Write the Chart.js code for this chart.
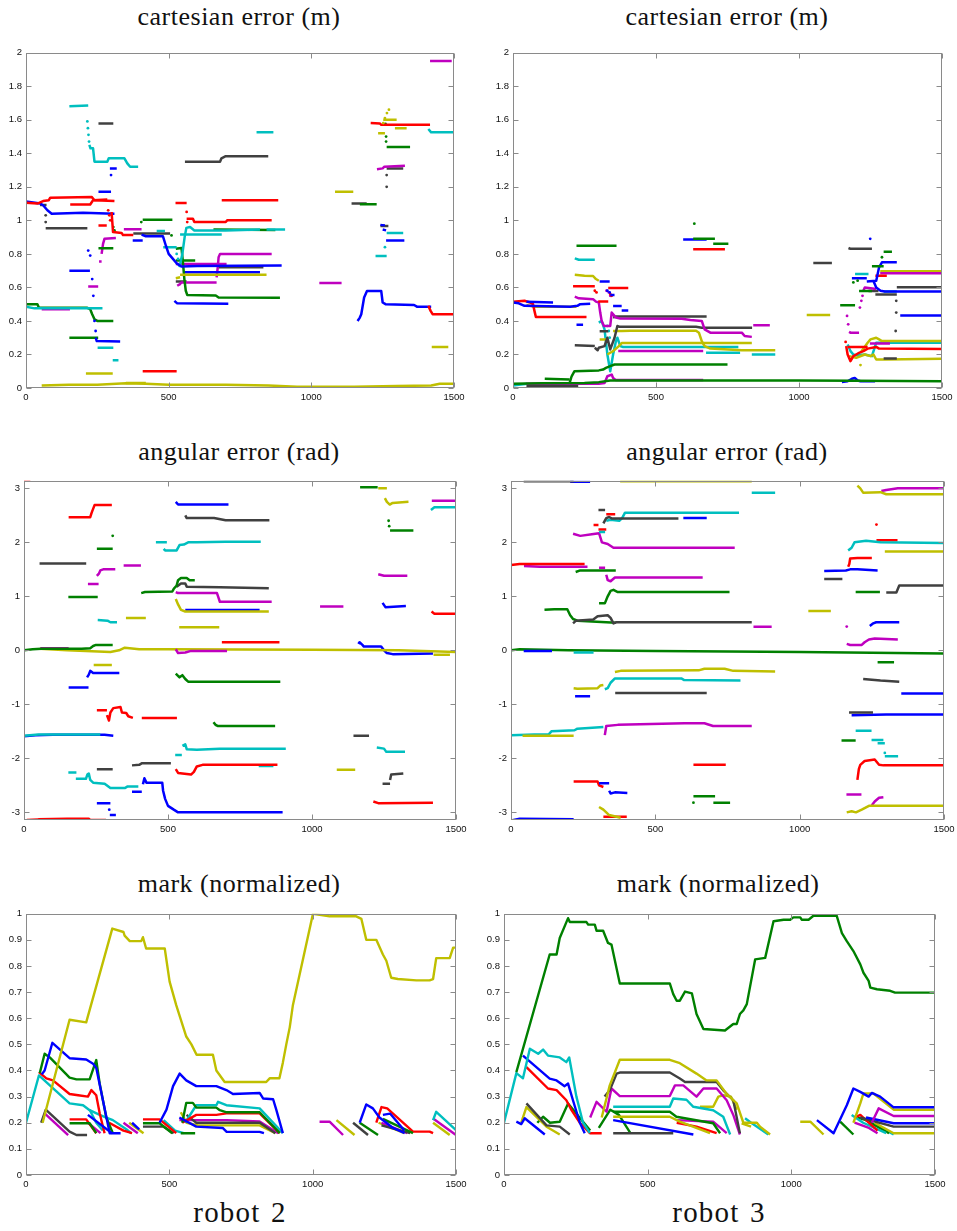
<!DOCTYPE html>
<html>
<head>
<meta charset="utf-8">
<script src="https://cdn.jsdelivr.net/npm/chart.js@4.4.1/dist/chart.umd.min.js"></script>
<style>
  html, body { margin: 0; padding: 0; background: #fff; }
  body { position: relative; width: 957px; height: 1231px; overflow: hidden; }
  canvas { position: absolute; }
  .title, .robot {
    position: absolute; width: 400px; text-align: center; white-space: nowrap;
    font-family: "Liberation Serif", "Times New Roman", serif; color: #111;
  }
  .title { font-size: 26px; line-height: 26px; letter-spacing: 0.5px; }
  .robot { font-size: 29px; line-height: 29px; letter-spacing: 1.2px; word-spacing: 2px; }
</style>
</head>
<body>
<script>
// ---- axis ticks ----
const xTicks = [0, 500, 1000, 1500];
const cartTicks = [0, 0.2, 0.4, 0.6, 0.8, 1, 1.2, 1.4, 1.6, 1.8, 2];
const angTicks = [-3, -2, -1, 0, 1, 2, 3];
const markTicks = [0, 0.1, 0.2, 0.3, 0.4, 0.5, 0.6, 0.7, 0.8, 0.9, 1];

// ---- landmark tracks: [colour key, x0, y0, x1, y1, ...]; a key ending in "." is plotted as dots ----
const robot2Cartesian = [
  ['y', 55,0.015, 150,0.02, 250,0.02, 350,0.028, 420,0.025, 500,0.02, 700,0.02, 850,0.015, 950,0.008, 1150,0.008, 1300,0.012, 1420,0.015, 1450,0.025, 1500,0.025],
  ['y', 350,0.03, 420,0.03],
  ['y', 210,0.087, 304,0.087],
  ['y', 1234,1.52, 1258,1.52],
  ['y.', 1252,1.58, 1258,1.61, 1265,1.64, 1272,1.66],
  ['y', 1252,1.60, 1299,1.60],
  ['y', 1293,1.55, 1334,1.55],
  ['y', 1422,0.245, 1480,0.245],
  ['y', 1083,1.17, 1147,1.17],
  ['y', 540,0.675, 843,0.675],
  ['y', 525,0.655, 540,0.66],
  ['r', 0,1.105, 40,1.10, 60,1.115, 80,1.12, 85,1.135, 230,1.14, 240,1.12, 310,1.115],
  ['r', 155,1.095, 225,1.095, 235,1.12, 285,1.125],
  ['r.', 288,1.06, 292,1.03, 295,1.0],
  ['r', 254,0.97, 283,0.97],
  ['r', 300,1.05, 305,0.93, 335,0.925, 340,0.912, 376,0.912],
  ['r', 409,0.10, 528,0.10],
  ['r', 524,1.104, 563,1.104],
  ['r.', 563,1.05, 565,0.99],
  ['r', 563,1.01, 585,1.01, 590,0.99, 700,0.99, 705,1.0, 861,1.0],
  ['r', 686,1.12, 884,1.12],
  ['r', 1208,1.58, 1240,1.578, 1245,1.57, 1416,1.57],
  ['r', 1410,0.49, 1418,0.46, 1425,0.44, 1500,0.44],
  ['b', 0,1.112, 50,1.1, 60,1.09, 75,1.06, 90,1.04, 200,1.045, 310,1.04],
  ['b', 152,0.70, 224,0.70],
  ['b.', 218,0.82, 225,0.79, 232,0.65, 236,0.55, 240,0.4, 244,0.34],
  ['b', 244,0.3, 248,0.28, 330,0.277],
  ['b', 254,1.17, 298,1.17],
  ['b', 294,1.31, 318,1.31],
  ['b.', 298,1.27],
  ['b', 374,0.88, 409,0.88],
  ['b', 405,0.915, 420,0.905, 480,0.905, 490,0.85, 500,0.8, 515,0.77, 530,0.74, 545,0.725, 600,0.728, 896,0.73],
  ['b', 520,0.52, 530,0.505, 709,0.503],
  ['b', 557,0.69, 820,0.69],
  ['b', 1162,0.4, 1170,0.42, 1175,0.44, 1185,0.54, 1195,0.578, 1245,0.578, 1250,0.51, 1260,0.5, 1360,0.495, 1370,0.485, 1420,0.485],
  ['b', 1242,0.973, 1258,0.97],
  ['b', 1250,0.945, 1262,0.94],
  ['b', 1262,0.88, 1326,0.88],
  ['c', 0,0.485, 30,0.475, 268,0.475],
  ['c', 152,1.68, 218,1.685],
  ['c.', 215,1.59, 217,1.55, 219,1.51, 221,1.47],
  ['c', 222,1.45, 226,1.43, 235,1.43, 240,1.35, 285,1.35, 290,1.37, 345,1.37, 355,1.34, 365,1.32, 393,1.32],
  ['c', 251,0.24, 306,0.24],
  ['c', 304,0.166, 324,0.166],
  ['c', 458,0.937, 487,0.937],
  ['c', 481,0.84, 528,0.84],
  ['c.', 528,0.8, 533,0.77],
  ['c', 538,0.72, 548,0.8, 556,0.9, 562,0.955, 575,0.96, 590,0.94, 700,0.94, 820,0.945],
  ['c', 540,0.915, 686,0.915],
  ['c', 843,0.945, 908,0.945],
  ['c', 808,1.525, 867,1.525],
  ['c', 1225,0.787, 1264,0.787],
  ['c.', 1258,0.84],
  ['c', 1264,0.924, 1322,0.924],
  ['c', 1410,1.545, 1420,1.525, 1500,1.525],
  ['g', 0,0.5, 40,0.5, 45,0.48, 100,0.478, 215,0.478, 225,0.47, 232,0.44, 240,0.41, 250,0.4, 306,0.4],
  ['g', 152,0.30, 253,0.30],
  ['g', 254,0.833, 306,0.833],
  ['g.', 306,0.96, 310,0.94],
  ['g', 409,1.003, 513,1.003],
  ['g.', 404,0.99, 510,0.91],
  ['g', 525,0.83, 545,0.835, 550,0.75, 555,0.65, 560,0.58, 565,0.555, 665,0.552, 675,0.54, 890,0.538],
  ['g', 525,0.76, 593,0.76],
  ['g', 657,0.945, 874,0.942],
  ['g', 1170,1.096, 1229,1.096],
  ['g', 1264,1.437, 1346,1.437],
  ['g.', 1262,1.47, 1262,1.5, 1260,1.575],
  ['m', 55,0.47, 154,0.47],
  ['m', 218,0.605, 253,0.605],
  ['m', 256,0.755, 265,0.755],
  ['m', 265,0.8, 270,0.86, 275,0.89, 315,0.895],
  ['m', 343,0.947, 405,0.947],
  ['m', 525,0.74, 703,0.74],
  ['m', 530,0.61, 540,0.62, 545,0.63, 668,0.63],
  ['m', 668,0.66, 672,0.72, 675,0.78, 680,0.80, 861,0.80],
  ['m', 1028,0.627, 1106,0.627],
  ['m', 1230,1.305, 1250,1.31, 1256,1.32, 1328,1.325],
  ['m', 1416,1.95, 1492,1.95],
  ['k', 49,1.092, 72,1.092],
  ['k.', 69,1.03, 69,0.99],
  ['k', 69,0.953, 215,0.953],
  ['k', 254,1.578, 306,1.578],
  ['k', 376,0.922, 505,0.922],
  ['k', 525,0.635, 563,0.635],
  ['k', 557,1.35, 680,1.35, 685,1.37, 700,1.383, 849,1.383],
  ['k', 674,0.72, 832,0.72],
  ['k', 1141,1.10, 1194,1.10],
  ['k', 1242,0.967, 1270,0.967],
  ['k.', 1264,1.2, 1264,1.27],
  ['k', 1264,1.31, 1322,1.31]
];

const robot3Cartesian = [
  ['g', 0,0.025, 100,0.028, 250,0.03, 300,0.035, 340,0.045, 600,0.045, 1000,0.045, 1200,0.043, 1500,0.04],
  ['g', 111,0.055, 198,0.05],
  ['g', 198,0.03, 205,0.07, 215,0.1, 300,0.105, 315,0.11, 325,0.12, 340,0.13, 355,0.14, 750,0.14],
  ['g', 222,0.849, 362,0.849],
  ['g', 630,0.89, 706,0.89],
  ['g.', 634,0.98],
  ['g', 700,0.86, 753,0.86],
  ['g', 1144,0.493, 1196,0.493],
  ['g', 1210,0.578, 1255,0.578],
  ['g', 1255,0.726, 1296,0.726],
  ['g', 1296,0.813, 1325,0.813],
  ['g.', 1190,0.63, 1205,0.64, 1290,0.78],
  ['b', 0,0.51, 20,0.505, 40,0.49, 200,0.485, 225,0.49, 235,0.5, 270,0.502],
  ['b', 47,0.515, 140,0.51],
  ['b', 222,0.378, 245,0.378],
  ['b', 303,0.635, 338,0.635],
  ['b.', 330,0.58, 338,0.57],
  ['b', 340,0.555, 355,0.555],
  ['b', 350,0.489, 380,0.489],
  ['b', 380,0.463, 403,0.463],
  ['b', 595,0.886, 677,0.886],
  ['b', 1150,0.036, 1170,0.04, 1185,0.055, 1195,0.06, 1205,0.045, 1215,0.04, 1266,0.04],
  ['b', 1185,0.655, 1237,0.655],
  ['b', 1237,0.635, 1270,0.64, 1280,0.72, 1290,0.75, 1342,0.75],
  ['b.', 1249,0.89],
  ['b', 1260,0.64, 1270,0.6, 1285,0.58, 1300,0.575, 1500,0.575],
  ['b', 1354,0.433, 1500,0.433],
  ['r', 0,0.515, 40,0.52, 60,0.51, 70,0.5, 75,0.46, 80,0.423, 257,0.423],
  ['r', 210,0.607, 286,0.607],
  ['r.', 286,0.58, 292,0.57],
  ['r', 298,0.516, 333,0.516],
  ['r', 333,0.597, 403,0.597],
  ['r.', 340,0.56, 345,0.55],
  ['r', 630,0.828, 741,0.828],
  ['r.', 1163,0.275],
  ['r', 1165,0.25, 1170,0.2, 1180,0.16, 1190,0.19, 1200,0.2, 1210,0.21, 1225,0.22, 1240,0.235, 1270,0.245, 1280,0.235, 1500,0.233],
  ['r', 1267,0.67, 1307,0.67],
  ['r', 1170,0.245, 1240,0.245],
  ['m', 47,0.025, 300,0.025, 320,0.03, 330,0.07, 345,0.08, 350,0.06, 360,0.047, 665,0.047],
  ['m', 216,0.545, 230,0.535, 280,0.53, 290,0.515, 300,0.51, 305,0.45, 310,0.40, 318,0.37, 340,0.37, 345,0.45, 360,0.42, 375,0.415, 590,0.413, 620,0.405, 660,0.40, 670,0.35, 690,0.33, 800,0.33, 810,0.31, 835,0.305],
  ['m', 840,0.374, 898,0.374],
  ['m.', 327,0.58, 335,0.57, 340,0.55],
  ['m', 368,0.22, 665,0.22],
  ['m.', 1168,0.43, 1172,0.38],
  ['m', 1175,0.335, 1180,0.33, 1210,0.33],
  ['m.', 1213,0.48, 1218,0.52, 1222,0.55],
  ['m', 1225,0.58, 1230,0.6, 1270,0.59],
  ['m', 1284,0.685, 1500,0.685],
  ['m', 1248,0.265, 1318,0.265],
  ['k', 47,0.01, 228,0.01],
  ['k', 216,0.255, 286,0.25],
  ['k', 286,0.24, 296,0.225, 300,0.24, 320,0.25, 330,0.3, 340,0.23, 355,0.3, 365,0.37, 372,0.365, 640,0.365, 660,0.36, 836,0.36],
  ['k', 350,0.42, 360,0.427, 677,0.427],
  ['k', 303,0.338, 333,0.338],
  ['k', 1050,0.746, 1115,0.746],
  ['k', 1173,0.835, 1180,0.83, 1255,0.83],
  ['k', 1267,0.558, 1342,0.558],
  ['k', 1243,0.578, 1278,0.578],
  ['k', 1342,0.601, 1500,0.601],
  ['k', 1296,0.176, 1342,0.176],
  ['k.', 1340,0.52, 1340,0.45, 1338,0.34],
  ['y', 47,0.495, 60,0.49, 75,0.485, 222,0.485],
  ['y', 216,0.675, 250,0.67, 280,0.668, 290,0.65, 300,0.64],
  ['y', 303,0.29, 327,0.29],
  ['y', 330,0.2, 340,0.21, 350,0.22, 370,0.25, 380,0.268, 675,0.268, 835,0.268],
  ['y', 350,0.34, 380,0.34, 410,0.342, 640,0.342, 650,0.33, 660,0.28, 670,0.25, 690,0.235, 800,0.225, 917,0.225],
  ['y', 1027,0.435, 1109,0.435],
  ['y', 1284,0.696, 1500,0.696],
  ['y', 1175,0.19, 1200,0.18, 1230,0.2, 1250,0.19, 1260,0.2, 1270,0.17, 1300,0.17, 1500,0.175],
  ['y', 1215,0.21, 1240,0.27, 1250,0.29, 1270,0.3, 1280,0.29, 1290,0.28, 1500,0.28],
  ['y.', 1215,0.137],
  ['c', 0,0.015, 20,0.02, 50,0.025],
  ['c', 216,0.773, 230,0.765, 286,0.765],
  ['c', 300,0.39, 310,0.4, 320,0.35, 330,0.2, 340,0.1, 350,0.2, 360,0.28, 365,0.3, 375,0.25, 385,0.245, 788,0.245],
  ['c', 675,0.21, 794,0.21],
  ['c', 835,0.2, 917,0.2],
  ['c', 1170,0.26, 1180,0.22, 1190,0.2, 1200,0.195, 1230,0.2, 1255,0.19, 1270,0.27, 1500,0.27],
  ['c', 1196,0.68, 1243,0.68],
  ['c', 1296,0.575, 1342,0.575],
  ['c.', 330,0.37, 335,0.34, 338,0.3]
];

const robot2Angular = [
  ['r', 0,3.14, 22,3.14],
  ['r', 155,2.465, 230,2.465, 235,2.55, 240,2.62, 245,2.69, 305,2.69],
  ['r', 253,-1.11, 288,-1.11],
  ['r', 288,-1.2, 295,-1.3, 300,-1.15, 310,-1.07, 335,-1.05, 340,-1.15, 355,-1.16, 362,-1.22, 378,-1.25],
  ['r', 409,-1.255, 531,-1.255],
  ['r', 10,-3.14, 50,-3.13, 150,-3.12, 225,-3.12, 230,-3.14, 285,-3.14],
  ['r', 687,0.15, 887,0.15],
  ['r', 527,-2.2, 535,-2.27, 580,-2.3, 590,-2.25, 600,-2.15, 620,-2.12, 880,-2.12],
  ['r', 1213,-2.8, 1230,-2.83, 1420,-2.82],
  ['r', 1415,0.72, 1425,0.68, 1500,0.68],
  ['g.', 308,2.12],
  ['g', 253,1.88, 308,1.88],
  ['g', 154,0.99, 256,0.99],
  ['g', 0,0, 30,0.02, 60,0.03, 200,0.03, 230,0.04, 240,0.08, 250,0.1, 308,0.1],
  ['g', 407,1.06, 420,1.08, 515,1.09, 520,1.14, 530,1.2, 535,1.3, 545,1.34, 565,1.34, 575,1.3, 593,1.3],
  ['g', 527,-0.43, 540,-0.5, 550,-0.46, 560,-0.53, 570,-0.58, 890,-0.58],
  ['g', 658,-1.33, 665,-1.38, 672,-1.4, 872,-1.4],
  ['g', 1167,3.02, 1228,3.02],
  ['g.', 1266,2.4, 1268,2.3],
  ['g', 1271,2.22, 1352,2.22],
  ['k', 54,1.61, 216,1.61],
  ['k', 253,-2.2, 308,-2.2],
  ['k', 375,-2.13, 400,-2.12, 410,-2.09, 510,-2.09],
  ['k', 560,2.5, 565,2.45, 660,2.45, 700,2.41, 852,2.41],
  ['k', 530,1.18, 545,1.24, 560,1.24, 565,1.18, 680,1.17, 850,1.15],
  ['k', 1144,-1.58, 1198,-1.58],
  ['k', 1245,-2.47, 1271,-2.47],
  ['k', 1271,-2.4, 1275,-2.3, 1317,-2.28],
  ['m', 222,1.23, 259,1.23],
  ['m', 253,1.38, 260,1.42, 265,1.48, 275,1.5, 317,1.5],
  ['m', 346,1.57, 406,1.57],
  ['m', 57,0.04, 155,0.04],
  ['m', 527,1.08, 535,1.06, 670,1.06, 675,0.98, 680,0.9, 860,0.9],
  ['m', 527,0.02, 535,-0.05, 560,-0.04, 580,-0.01, 705,-0.01],
  ['m', 1028,0.81, 1109,0.81],
  ['m', 1230,1.41, 1250,1.38, 1331,1.38],
  ['m', 1416,2.77, 1500,2.77],
  ['c', 256,0.56, 290,0.55, 300,0.52, 323,0.52],
  ['c', 0,-1.58, 50,-1.56, 265,-1.56],
  ['c', 154,-2.26, 182,-2.26],
  ['c', 180,-2.38, 215,-2.38, 220,-2.3, 225,-2.28, 230,-2.4, 240,-2.45, 280,-2.47, 300,-2.55, 350,-2.55, 360,-2.52, 397,-2.52],
  ['c', 458,2.0, 496,2.0],
  ['c', 485,1.88, 490,1.85, 530,1.85, 540,1.95, 555,1.96, 570,2.0, 600,2.0, 700,2.01, 822,2.01],
  ['c', 525,-1.94, 548,-1.94],
  ['c', 550,-1.77, 560,-1.74, 565,-1.83, 600,-1.84, 680,-1.82, 909,-1.82],
  ['c', 815,-2.14, 866,-2.14],
  ['c', 1225,-1.8, 1250,-1.82, 1258,-1.88, 1323,-1.88],
  ['c', 1413,2.6, 1425,2.65, 1500,2.65],
  ['y', 354,0.6, 423,0.6],
  ['y', 55,0.03, 150,0.0, 300,-0.03, 330,0.0, 350,0.05, 400,0.02, 500,0.02, 1000,0.01, 1300,0.0, 1500,-0.03],
  ['y', 242,-0.27, 305,-0.27],
  ['y', 527,0.95, 535,0.85, 545,0.75, 560,0.72, 850,0.72],
  ['y', 539,0.43, 678,0.43],
  ['y', 1086,-2.21, 1150,-2.21],
  ['y', 1230,3.0, 1260,3.0],
  ['y', 1253,2.82, 1260,2.75, 1270,2.7, 1280,2.73, 1335,2.75],
  ['y', 1422,-0.08, 1479,-0.08],
  ['b', 155,-0.69, 224,-0.69],
  ['b', 219,-0.5, 225,-0.45, 230,-0.38, 240,-0.42, 331,-0.42],
  ['b', 0,-1.59, 40,-1.57, 100,-1.565, 280,-1.565, 310,-1.58],
  ['b', 253,-2.83, 300,-2.83],
  ['b.', 296,-2.95],
  ['b', 298,-3.05, 319,-3.05],
  ['b', 375,-2.62, 409,-2.62],
  ['b', 413,-2.48, 418,-2.37, 425,-2.45, 480,-2.45, 483,-2.6, 490,-2.75, 500,-2.88, 520,-2.95, 535,-3.0, 570,-3.0, 898,-3.0],
  ['b', 527,2.75, 535,2.7, 710,2.7],
  ['b', 560,0.745, 818,0.745],
  ['b', 1245,0.88, 1255,0.8, 1326,0.82],
  ['b', 1161,0.12, 1165,0.15, 1175,0.1, 1180,0.07, 1240,0.07, 1250,0.0, 1260,-0.05, 1280,-0.07, 1420,-0.06]
];

const robot3Angular = [
  ['k', 44,3.13, 217,3.13],
  ['k', 303,2.6, 326,2.6],
  ['k', 320,2.35, 330,2.45, 340,2.47, 350,2.44, 580,2.44],
  ['k', 215,0.5, 225,0.55, 285,0.57, 300,0.63, 335,0.65, 345,0.6, 355,0.5, 365,0.52, 834,0.52],
  ['k', 361,-0.79, 678,-0.79],
  ['k', 1085,1.32, 1148,1.32],
  ['k', 1300,1.07, 1335,1.07, 1345,1.2, 1500,1.2],
  ['k', 1220,-0.53, 1260,-0.55, 1280,-0.56, 1345,-0.58],
  ['k', 1171,-1.15, 1254,-1.15],
  ['b', 205,3.12, 274,3.12],
  ['b', 597,2.45, 678,2.45],
  ['b', 44,-0.01, 142,-0.01],
  ['b', 222,-0.85, 274,-0.85],
  ['b', 305,-2.46, 340,-2.46],
  ['b', 340,-2.6, 345,-2.65, 360,-2.63, 403,-2.64],
  ['b', 0,-3.15, 30,-3.12, 217,-3.13],
  ['b', 1243,0.45, 1255,0.5, 1265,0.52, 1345,0.52],
  ['b', 1085,1.47, 1160,1.48, 1175,1.5, 1200,1.5, 1270,1.48],
  ['b', 1352,-0.8, 1500,-0.8],
  ['b', 1180,-1.2, 1300,-1.19, 1500,-1.19],
  ['y', 378,3.13, 834,3.13],
  ['y', 217,-0.7, 230,-0.71, 300,-0.7, 310,-0.65, 320,-0.64],
  ['y', 360,-0.4, 380,-0.38, 650,-0.37, 670,-0.34, 740,-0.34, 770,-0.38, 915,-0.39],
  ['y', 40,-1.58, 217,-1.58],
  ['y', 305,-2.9, 320,-2.95, 330,-3.0, 340,-3.05, 380,-3.1],
  ['y', 1030,0.73, 1108,0.73],
  ['y', 1295,1.83, 1500,1.83],
  ['y', 1200,3.05, 1210,3.0, 1220,2.92, 1280,2.93, 1300,2.89, 1500,2.89],
  ['y', 1163,-3.0, 1180,-2.98, 1195,-3.0, 1215,-2.95, 1240,-2.88, 1260,-2.88, 1500,-2.88],
  ['c', 834,2.92, 915,2.92],
  ['c', 305,2.19, 326,2.19],
  ['c', 330,2.4, 345,2.42, 375,2.4, 385,2.45, 395,2.55, 790,2.55],
  ['c', 217,-0.04, 286,-0.04],
  ['c', 325,-0.72, 335,-0.7, 345,-0.6, 360,-0.52, 590,-0.52, 600,-0.55, 795,-0.56],
  ['c', 0,-1.57, 80,-1.56, 130,-1.56, 140,-1.5, 220,-1.48, 230,-1.45, 320,-1.42],
  ['c', 1168,1.85, 1180,1.9, 1190,2.0, 1230,2.03, 1280,2.0, 1500,1.99],
  ['c', 1194,-1.49, 1249,-1.49],
  ['c', 1249,-1.66, 1290,-1.66],
  ['c', 1270,-1.72, 1295,-1.72],
  ['c.', 1295,-1.9],
  ['c', 1295,-1.96, 1341,-1.96],
  ['r', 286,2.32, 303,2.32],
  ['r', 303,2.24, 330,2.24],
  ['r', 330,2.52, 361,2.52],
  ['r', 0,1.58, 30,1.6, 255,1.6],
  ['r', 217,-2.43, 300,-2.43, 305,-2.5, 320,-2.53],
  ['r', 320,-3.08, 401,-3.08],
  ['r', 632,-2.12, 744,-2.12],
  ['r', 1168,1.55, 1172,1.6, 1175,1.7, 1200,1.71, 1250,1.71],
  ['r.', 1266,2.33],
  ['r', 1266,2.04, 1339,2.04],
  ['r', 1200,-2.4, 1205,-2.2, 1210,-2.12, 1225,-2.05, 1260,-2.02, 1275,-2.12, 1290,-2.13, 1500,-2.13],
  ['m', 215,2.16, 240,2.12, 280,2.15, 305,2.17, 315,2.0, 335,1.97, 355,1.9, 775,1.9],
  ['m', 45,1.56, 100,1.55, 265,1.55],
  ['m', 305,1.53, 326,1.53],
  ['m', 330,1.4, 335,1.3, 345,1.28, 360,1.35, 664,1.35],
  ['m', 840,0.435, 903,0.435],
  ['m', 325,-1.57, 330,-1.4, 370,-1.38, 600,-1.35, 670,-1.35, 700,-1.4, 834,-1.4],
  ['m.', 1163,0.44],
  ['m', 1163,0.12, 1175,0.1, 1215,0.1, 1225,0.15, 1240,0.2, 1260,0.22, 1340,0.2],
  ['m', 1283,2.95, 1300,2.97, 1340,3.0, 1500,3.0],
  ['m', 1162,-2.67, 1214,-2.67],
  ['m', 1250,-2.87, 1260,-2.8, 1275,-2.73, 1290,-2.72],
  ['g', 224,1.45, 240,1.48, 363,1.48],
  ['g', 305,0.87, 325,0.87, 335,1.0, 345,1.1, 355,1.12, 370,1.08, 757,1.08],
  ['g', 116,0.75, 150,0.76, 195,0.76, 205,0.65, 215,0.58, 230,0.55, 330,0.52, 363,0.51],
  ['g', 0,0, 30,0.02, 200,0.0, 500,-0.01, 1000,-0.03, 1500,-0.06],
  ['g', 632,-2.7, 707,-2.7],
  ['g.', 632,-2.82],
  ['g', 701,-2.82, 759,-2.82],
  ['g', 1194,1.08, 1278,1.08],
  ['g', 1270,-0.22, 1327,-0.22],
  ['g', 1145,-1.67, 1194,-1.67]
];

const robot2Mark = [
  ['y', 58,0.2, 152,0.594, 210,0.584, 301,0.943, 340,0.93, 344,0.916, 362,0.895, 402,0.895, 408,0.91, 419,0.867, 484,0.867, 501,0.74, 524,0.65, 559,0.53, 577,0.50, 595,0.46, 652,0.46, 664,0.4, 693,0.356, 838,0.356, 850,0.37, 884,0.37, 896,0.43, 908,0.5, 920,0.565, 931,0.65, 1001,1.0, 1030,0.995, 1059,0.99, 1152,0.99, 1170,0.98, 1187,0.9, 1222,0.9, 1245,0.844, 1257,0.82, 1274,0.755, 1297,0.75, 1362,0.745, 1408,0.745, 1420,0.75, 1431,0.83, 1478,0.83, 1490,0.87, 1500,0.87],
  ['b', 55,0.385, 65,0.4, 92,0.506, 152,0.447, 210,0.442, 234,0.426, 245,0.41, 292,0.16, 330,0.16],
  ['b', 466,0.2, 490,0.25, 513,0.34, 536,0.388, 559,0.362, 594,0.34, 664,0.34, 699,0.325, 722,0.31, 815,0.314, 827,0.293, 862,0.29, 873,0.25, 896,0.16],
  ['b', 1164,0.2, 1187,0.27, 1210,0.255, 1233,0.22, 1257,0.2, 1280,0.18, 1321,0.16],
  ['b', 216,0.23, 300,0.16],
  ['b', 370,0.2, 395,0.175],
  ['b', 1245,0.23, 1270,0.235, 1320,0.17],
  ['b', 535,0.22, 594,0.185, 686,0.18, 700,0.165, 815,0.165, 830,0.16],
  ['g', 48,0.39, 65,0.464, 83,0.45, 152,0.373, 176,0.366, 222,0.366, 245,0.44, 257,0.35, 280,0.22, 303,0.16],
  ['g', 545,0.2, 559,0.276, 582,0.276, 594,0.258, 664,0.258, 676,0.248, 700,0.24, 815,0.24, 885,0.16],
  ['g', 152,0.198, 222,0.198, 245,0.16],
  ['g', 408,0.198, 466,0.198, 510,0.16],
  ['g', 1164,0.2, 1228,0.153],
  ['g', 1245,0.215, 1350,0.16],
  ['g', 540,0.16, 590,0.16],
  ['r', 45,0.394, 71,0.37, 94,0.362, 152,0.31, 182,0.305, 216,0.3, 228,0.325, 245,0.305, 257,0.236, 274,0.16],
  ['r', 152,0.213, 210,0.213, 245,0.16],
  ['r', 408,0.213, 466,0.213, 524,0.16],
  ['r', 545,0.2, 594,0.23, 664,0.23, 699,0.236, 815,0.236, 885,0.16],
  ['r', 1222,0.2, 1240,0.26, 1260,0.255, 1350,0.166, 1408,0.166, 1420,0.16],
  ['r', 290,0.2, 340,0.17, 370,0.16],
  ['c', 0,0.2, 45,0.381, 152,0.274, 199,0.267, 222,0.248, 257,0.23, 280,0.22, 303,0.21, 350,0.175, 367,0.16],
  ['c', 222,0.25, 245,0.2, 268,0.17],
  ['c', 480,0.21, 520,0.17, 550,0.16],
  ['c', 555,0.2, 594,0.267, 664,0.267, 670,0.28, 699,0.267, 815,0.255, 896,0.16],
  ['c', 1420,0.21, 1431,0.242, 1500,0.172],
  ['k', 53,0.2, 69,0.25, 152,0.166, 176,0.153, 213,0.153],
  ['k', 408,0.185, 480,0.185, 515,0.16],
  ['k', 560,0.23, 594,0.2, 700,0.2, 815,0.2, 870,0.16],
  ['k', 1141,0.2, 1193,0.153],
  ['k', 1240,0.19, 1340,0.16],
  ['m', 65,0.236, 147,0.153],
  ['m', 216,0.2, 260,0.16],
  ['m', 340,0.2, 390,0.16],
  ['m', 535,0.21, 594,0.21, 700,0.21, 815,0.205, 880,0.16],
  ['m', 1024,0.204, 1059,0.204, 1106,0.153],
  ['m', 1420,0.216, 1500,0.153],
  ['m', 1240,0.2, 1330,0.16],
  ['y', 360,0.2, 410,0.16],
  ['y', 540,0.24, 560,0.2, 600,0.19, 700,0.19, 815,0.19, 870,0.16],
  ['y', 1083,0.21, 1146,0.153],
  ['y', 1420,0.2, 1478,0.153],
  ['y', 1230,0.2, 1320,0.16]
];

const robot3Mark = [
  ['g', 43,0.394, 159,0.844, 183,0.844, 194,0.907, 223,0.983, 229,0.968, 287,0.968, 293,0.958, 316,0.958, 322,0.935, 345,0.935, 362,0.888, 374,0.882, 403,0.733, 577,0.733, 589,0.692, 601,0.667, 612,0.667, 630,0.702, 654,0.695, 670,0.616, 694,0.559, 769,0.553, 798,0.578, 810,0.578, 821,0.616, 833,0.63, 845,0.654, 874,0.825, 909,0.831, 938,0.971, 973,0.977, 996,0.977, 1007,0.986, 1031,0.986, 1036,0.977, 1060,0.977, 1077,0.992, 1158,0.992, 1176,0.926, 1193,0.895, 1216,0.857, 1240,0.806, 1251,0.774, 1269,0.743, 1275,0.717, 1298,0.711, 1344,0.705, 1361,0.698, 1500,0.698],
  ['c', 0,0.2, 43,0.39, 66,0.37, 90,0.483, 119,0.464, 136,0.48, 153,0.457, 194,0.45, 217,0.432, 227,0.45, 252,0.3, 275,0.2, 299,0.16],
  ['b', 66,0.457, 159,0.369, 183,0.362, 211,0.34, 223,0.35, 240,0.286, 264,0.2, 281,0.16],
  ['b', 43,0.204, 60,0.195, 72,0.217, 142,0.155],
  ['r', 78,0.413, 153,0.331, 183,0.325, 217,0.286, 235,0.248, 264,0.2, 299,0.16, 340,0.16],
  ['k', 78,0.274, 148,0.19, 194,0.185, 229,0.155],
  ['y', 60,0.2, 78,0.26, 148,0.185, 194,0.155],
  ['g', 116,0.2, 136,0.223, 160,0.2, 194,0.204, 223,0.274, 300,0.17],
  ['y', 340,0.22, 368,0.343, 403,0.441, 577,0.441, 612,0.428, 670,0.388, 705,0.362, 740,0.362, 775,0.31, 810,0.274, 833,0.2, 880,0.2, 891,0.185, 926,0.155],
  ['k', 350,0.3, 368,0.324, 392,0.388, 403,0.392, 577,0.392, 612,0.369, 630,0.356, 740,0.356, 763,0.324, 798,0.286, 821,0.16],
  ['m', 300,0.22, 322,0.28, 357,0.242, 374,0.331, 403,0.302, 577,0.302, 595,0.343, 624,0.343, 670,0.3, 694,0.331, 740,0.331, 775,0.286, 798,0.23, 821,0.155],
  ['c', 380,0.261, 577,0.261, 589,0.293, 635,0.288, 659,0.261, 728,0.248, 763,0.223, 787,0.155],
  ['g', 380,0.242, 577,0.242, 600,0.223, 728,0.198, 752,0.16],
  ['y', 380,0.223, 577,0.223, 612,0.204, 717,0.16],
  ['m', 601,0.21, 728,0.204, 775,0.16],
  ['r', 601,0.2, 670,0.185, 740,0.16],
  ['b', 380,0.21, 659,0.155],
  ['k', 380,0.16, 589,0.16],
  ['y', 682,0.261, 728,0.261, 746,0.3, 763,0.305, 790,0.3, 810,0.25],
  ['c', 839,0.217, 860,0.2, 920,0.155],
  ['y', 827,0.198, 860,0.185],
  ['g', 330,0.18, 370,0.25, 400,0.23, 440,0.16],
  ['y', 1031,0.204, 1066,0.204, 1112,0.155],
  ['b', 1089,0.21, 1147,0.16, 1193,0.267, 1216,0.331, 1240,0.318, 1269,0.3, 1280,0.314, 1309,0.3, 1356,0.259, 1500,0.259],
  ['y', 1216,0.2, 1240,0.274, 1251,0.312, 1286,0.312, 1356,0.25, 1500,0.25],
  ['m', 1280,0.2, 1304,0.255, 1356,0.226, 1500,0.226],
  ['b', 1260,0.22, 1356,0.198, 1500,0.198],
  ['k', 1240,0.22, 1356,0.185, 1500,0.185],
  ['y', 1290,0.2, 1356,0.16, 1500,0.16],
  ['g', 1170,0.204, 1216,0.155],
  ['r', 1220,0.22, 1240,0.23, 1300,0.17],
  ['c', 1210,0.23, 1250,0.2, 1330,0.16],
  ['g', 1230,0.22, 1260,0.21, 1340,0.16],
  ['m', 1220,0.2, 1270,0.18, 1300,0.16],
  ['c', 1260,0.21, 1356,0.155]
];

// ---- drawing ----
const COLORS = { b: '#0000ff', g: '#008000', r: '#ff0000', c: '#00bfbf', m: '#bf00bf', y: '#bfbf00', k: '#404040' };

function toDatasets(tracks, width) {
  return tracks.map(t => {
    const key = t[0];
    const dots = key.endsWith('.');
    const col = COLORS[key[0]];
    const pts = [];
    for (let i = 1; i < t.length; i += 2) pts.push({ x: t[i], y: t[i + 1] });
    const asDots = dots || pts.length === 1;
    return {
      data: pts, borderColor: col, backgroundColor: col,
      borderWidth: width, showLine: !asDots, tension: 0,
      borderJoinStyle: 'round',
      pointRadius: asDots ? 1.4 : 0, pointBorderWidth: 0, pointHoverRadius: 0
    };
  });
}

// axes frame with inward tick marks on all four sides
const framePlugin = {
  id: 'frame',
  afterDatasetsDraw(chart) {
    const { ctx, chartArea: a, scales: { x, y } } = chart;
    ctx.save();
    ctx.strokeStyle = '#8a8a8a';
    ctx.lineWidth = 1;
    const L = Math.round(a.left) + 0.5, R = Math.round(a.right) - 0.5;
    const T = Math.round(a.top) + 0.5, B = Math.round(a.bottom) - 0.5;
    ctx.strokeRect(L, T, R - L, B - T);
    ctx.beginPath();
    const len = 5;
    x.ticks.forEach(t => {
      const px = Math.round(x.getPixelForValue(t.value)) + 0.5;
      ctx.moveTo(px, B); ctx.lineTo(px, B - len);
      ctx.moveTo(px, T); ctx.lineTo(px, T + len);
    });
    y.ticks.forEach(t => {
      const py = Math.round(y.getPixelForValue(t.value)) + 0.5;
      ctx.moveTo(L, py); ctx.lineTo(L + len, py);
      ctx.moveTo(R, py); ctx.lineTo(R - len, py);
    });
    ctx.stroke();
    ctx.restore();
  }
};

const Y_AXIS_W = 30, TOP_PAD = 8, RIGHT_PAD = 16, X_AXIS_H = 20;
const tickFont = { family: '"Liberation Sans", Arial, sans-serif', size: 9.5 };

function makePanel(rect, tracks, yTicks, yMin, yMax, lineWidth) {
  const [pl, pt, pr, pb] = rect;
  const cv = document.createElement('canvas');
  const w = Y_AXIS_W + (pr - pl) + RIGHT_PAD;
  const h = TOP_PAD + (pb - pt) + X_AXIS_H;
  cv.width = w; cv.height = h;
  cv.style.width = w + 'px'; cv.style.height = h + 'px';
  cv.style.left = (pl - Y_AXIS_W) + 'px';
  cv.style.top = (pt - TOP_PAD) + 'px';
  document.body.appendChild(cv);
  new Chart(cv, {
    type: 'scatter',
    data: { datasets: toDatasets(tracks, lineWidth) },
    options: {
      responsive: false, animation: false, events: [], devicePixelRatio: 1,
      layout: { padding: { top: TOP_PAD, right: RIGHT_PAD, left: 0, bottom: 0 } },
      plugins: { legend: { display: false }, tooltip: { enabled: false } },
      scales: {
        x: {
          type: 'linear', min: 0, max: 1500,
          grid: { display: false, drawTicks: false }, border: { display: false },
          ticks: { font: tickFont, color: '#111', padding: 4, maxRotation: 0, autoSkip: false, callback: v => String(v) },
          afterBuildTicks: s => { s.ticks = xTicks.map(v => ({ value: v })); },
          afterFit: s => { s.height = X_AXIS_H; }
        },
        y: {
          type: 'linear', min: yMin, max: yMax,
          grid: { display: false, drawTicks: false }, border: { display: false },
          ticks: { font: tickFont, color: '#111', padding: 4, autoSkip: false, callback: v => String(v) },
          afterBuildTicks: s => { s.ticks = yTicks.map(v => ({ value: v })); },
          afterFit: s => { s.width = Y_AXIS_W; }
        }
      }
    },
    plugins: [framePlugin]
  });
}

function addText(cls, text, cx, top) {
  const d = document.createElement('div');
  d.className = cls;
  d.textContent = text;
  d.style.left = (cx - 200) + 'px';
  d.style.top = top + 'px';
  document.body.appendChild(d);
}

makePanel([26, 51, 454, 388], robot2Cartesian, cartTicks, 0, 2, 2.5);
makePanel([513, 51, 942, 388], robot3Cartesian, cartTicks, 0, 2, 2.5);
makePanel([24, 479, 456, 820], robot2Angular, angTicks, -Math.PI, Math.PI, 2.5);
makePanel([511, 479, 944, 820], robot3Angular, angTicks, -Math.PI, Math.PI, 2.5);
makePanel([26, 912, 456, 1175], robot2Mark, markTicks, 0, 1, 2.4);
makePanel([504, 912, 935, 1175], robot3Mark, markTicks, 0, 1, 2.4);

addText('title', 'cartesian error (m)', 239, 4);
addText('title', 'cartesian error (m)', 727, 4);
addText('title', 'angular error (rad)', 239, 439);
addText('title', 'angular error (rad)', 727, 439);
addText('title', 'mark (normalized)', 239, 871);
addText('title', 'mark (normalized)', 718, 871);
addText('robot', 'robot 2', 240, 1198);
addText('robot', 'robot 3', 719, 1198);
</script>
</body>
</html>
